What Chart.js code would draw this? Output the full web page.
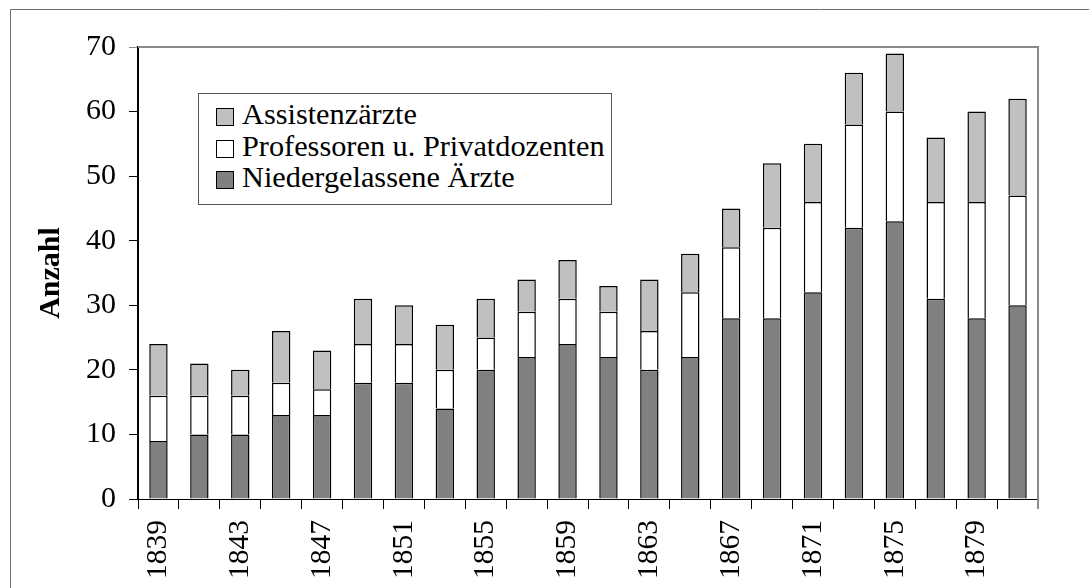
<!DOCTYPE html>
<html>
<head>
<meta charset="utf-8">
<script src="https://cdn.jsdelivr.net/npm/chart.js@4.4.1/dist/chart.umd.min.js"></script>
<style>
  html, body { margin: 0; padding: 0; background: #fff; }
  #wrap { position: relative; width: 1089px; height: 588px; }
  #legend {
    position: absolute; left: 198px; top: 93px; width: 414px; height: 112px;
    box-sizing: border-box; border: 1px solid #555; background: #fff;
    padding: 5px 0 0 17px;
    font-family: "Liberation Serif", "Times New Roman", serif;
    font-size: 30.3px; line-height: 31.5px; color: #000; white-space: nowrap;
  }
  #legend .box {
    display: inline-block; width: 16px; height: 16px;
    border: 1.5px solid #000; vertical-align: -2px; margin-right: 8px;
  }
</style>
</head>
<body>
<div id="wrap">
  <canvas id="chart"></canvas>
  <div id="legend"></div>
</div>
<script>
const years = ['1839', '1841', '1843', '1845', '1847', '1849', '1851', '1853', '1855', '1857', '1859',
               '1861', '1863', '1865', '1867', '1869', '1871', '1873', '1875', '1877', '1879', '1881'];
const niedergelassene = [9, 10, 10, 13, 13, 18, 18, 14, 20, 22, 24, 22, 20, 22, 28, 28, 32, 42, 43, 31, 28, 30];
const professoren = [7, 6, 6, 5, 4, 6, 6, 6, 5, 7, 7, 7, 6, 10, 11, 14, 14, 16, 17, 15, 18, 17];
const assistenz = [8, 5, 4, 8, 6, 7, 6, 7, 6, 5, 6, 4, 8, 6, 6, 10, 9, 8, 9, 10, 14, 15];
const yTicks = [0, 10, 20, 30, 40, 50, 60, 70];

const serif = '"Liberation Serif", "Times New Roman", serif';

// Rahmen: Plotfläche oben/rechts und äußerer Rahmen
const frame = {
  id: 'frame',
  afterDraw(chart) {
    const c = chart.ctx, a = chart.chartArea;
    c.save();
    c.strokeStyle = '#8a8a8a';
    c.lineWidth = 2;
    c.beginPath();
    c.moveTo(a.left, a.top);
    c.lineTo(a.right, a.top);
    c.lineTo(a.right, a.bottom + 10);
    c.stroke();
    c.strokeStyle = '#6e6e6e';
    c.lineWidth = 1;
    c.beginPath();
    c.moveTo(10.5, chart.height);
    c.lineTo(10.5, 9.5);
    c.lineTo(chart.width, 9.5);
    c.stroke();
    c.restore();
  }
};

const chart = new Chart(document.getElementById('chart'), {
  type: 'bar',
  data: {
    labels: years,
    datasets: [
      { label: 'Niedergelassene Ärzte', data: niedergelassene, backgroundColor: '#808080' },
      { label: 'Professoren u. Privatdozenten', data: professoren, backgroundColor: '#ffffff' },
      { label: 'Assistenzärzte', data: assistenz, backgroundColor: '#c0c0c0' }
    ].map(d => Object.assign(d, {
      borderColor: '#000',
      borderWidth: 1.5,
      categoryPercentage: 1,
      barPercentage: 0.45
    }))
  },
  options: {
    responsive: true,
    maintainAspectRatio: false,
    animation: false,
    layout: { padding: { left: 10, top: 47, right: 51, bottom: 0 } },
    plugins: { legend: { display: false }, tooltip: { enabled: false } },
    scales: {
      x: {
        stacked: true,
        afterFit: s => { s.height = 89; },
        grid: { offset: true, drawOnChartArea: false, tickLength: 10, tickColor: '#000', lineWidth: 1 },
        border: { color: '#000', width: 1 },
        ticks: {
          autoSkip: false, minRotation: 90, maxRotation: 90, padding: 11, color: '#000',
          font: { family: serif, size: 29.5 },
          callback: function (v, i) { return i % 2 === 0 ? this.getLabelForValue(v) : ''; }
        }
      },
      y: {
        stacked: true,
        min: yTicks[0],
        max: yTicks[yTicks.length - 1],
        afterFit: s => { s.width = 128; },
        afterBuildTicks: s => { s.ticks = yTicks.map(v => ({ value: v })); },
        grid: {
          drawOnChartArea: false, tickLength: 9, lineWidth: 1,
          tickColor: ctx => ctx.tick && ctx.tick.value === 70 ? '#8a8a8a' : '#000'
        },
        border: { color: '#000', width: 2 },
        ticks: { padding: 13, color: '#000', font: { family: serif, size: 30 } },
        title: {
          display: true, text: 'Anzahl', color: '#000',
          font: { family: serif, size: 30, weight: 'bold' },
          padding: { top: 23, bottom: 0 }
        }
      }
    }
  },
  plugins: [frame]
});

// Legende (umgekehrte Reihenfolge wie im Original)
const legend = document.getElementById('legend');
chart.data.datasets.slice().reverse().forEach(ds => {
  const row = document.createElement('div');
  row.innerHTML = `<span class="box" style="background:${ds.backgroundColor}"></span>${ds.label}`;
  legend.appendChild(row);
});
</script>
</body>
</html>
